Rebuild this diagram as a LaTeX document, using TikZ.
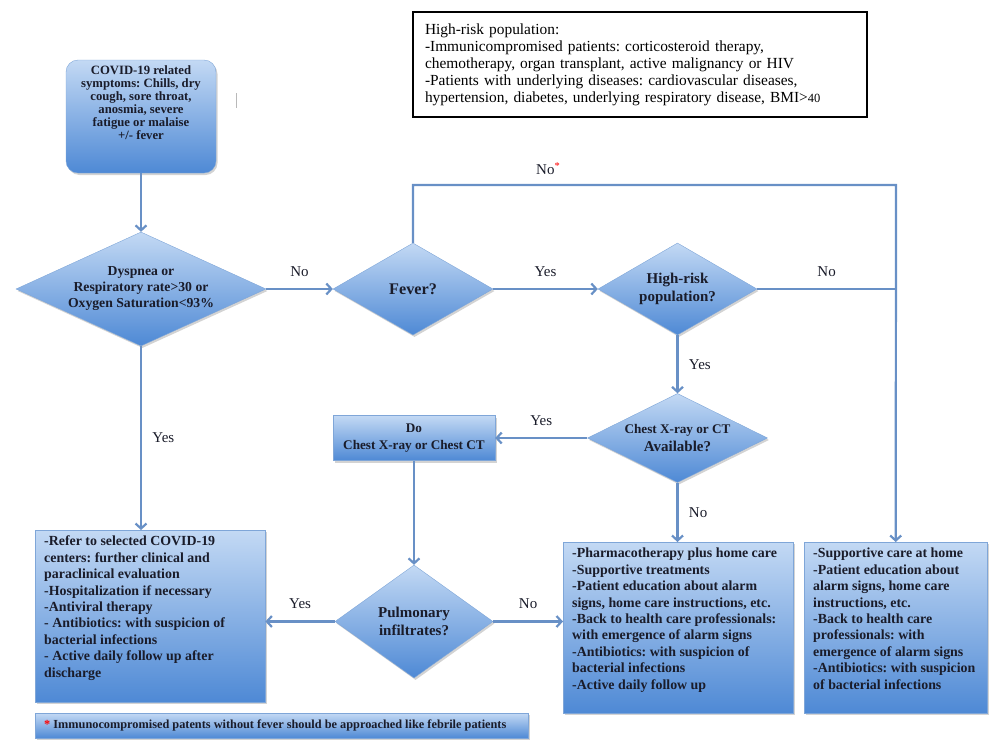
\documentclass[tikz,border=0pt]{standalone}
\usepackage{fontspec}
\setmainfont{Liberation Serif}
\usepackage{tikz}
\usetikzlibrary{shapes.geometric,shadows,arrows.meta}
\frenchspacing

\definecolor{boxtop}{HTML}{C3D9F4}
\definecolor{boxbot}{HTML}{4E89D5}
\definecolor{boxline}{HTML}{7FA6D8}
\definecolor{flowline}{HTML}{6890C6}
\definecolor{inktext}{HTML}{1A1C2A}

\begin{document}
\begin{tikzpicture}[x=1pt, y=-1pt,
		bluebox/.style={draw=boxline, thin, top color=boxtop, bottom color=boxbot, text=inktext,
			drop shadow={shadow xshift=1.5pt, shadow yshift=-2pt, opacity=.35}},
		decision/.style={bluebox, diamond, inner sep=0pt, align=center, font=\bfseries},
		carebox/.style={bluebox, rectangle, anchor=north west, inner xsep=9pt, inner ysep=6pt,
			font=\bfseries\fontsize{13.9}{16.4}\selectfont},
		flow/.style={draw=flowline, line width=2.2pt, -{Straight Barb[length=5pt, width=11pt]}},
		plain/.style={draw=flowline, line width=2.2pt},
		tag/.style={font=\fontsize{15}{16}\selectfont, text=inktext}]
		\useasboundingbox (0, 0) rectangle (1008, 750);
		%%
		\node[bluebox, rounded corners=12pt, minimum width=150, minimum height=113, inner sep=0pt]
			(symp) at (141, 116.5) {\parbox[t][101pt][t]{146pt}{\centering\bfseries\fontsize{12.7}{13}\selectfont
				COVID-19 related\\ symptoms: Chills, dry\\ cough, sore throat,\\ anosmia, severe\\ fatigue or malaise\\ +/- fever}};
		\draw[gray!55, line width=1pt] (236, 93) -- (236, 108);
		%%
		\node[draw=black, line width=1.8pt, fill=white, minimum width=454, minimum height=105,
			text width=430, align=left, inner xsep=12pt, font=\fontsize{15.4}{17}\selectfont] (hrbox) at (640, 64.5)
			{High-risk population:\\
			-Immunicompromised patients: corticosteroid therapy,\\
			chemotherapy, organ transplant, active malignancy or HIV\\
			-Patients with underlying diseases: cardiovascular diseases,\\
			hypertension, diabetes, underlying respiratory disease, BMI>{\fontsize{12.5}{17}\selectfont 40}};
		%%
		\node[decision, minimum width=250, minimum height=114, aspect=2.19, font=\bfseries\fontsize{13.7}{16}\selectfont]
			(dysp) at (141, 289) {Dyspnea or\\ Respiratory rate>30 or\\ Oxygen Saturation<93\%};
		\node[decision, minimum width=160, minimum height=92, aspect=1.74, font=\bfseries\fontsize{16.2}{18}\selectfont]
			(fever) at (413, 289) {Fever?};
		\node[decision, minimum width=159, minimum height=92, aspect=1.73, font=\bfseries\fontsize{15}{18}\selectfont]
			(hrisk) at (677.5, 289) {High-risk\\ population?};
		\node[decision, minimum width=180, minimum height=89, aspect=2.02, font=\bfseries\fontsize{13.2}{18}\selectfont]
			(chest) at (677.5, 438) {Chest X-ray or CT\\ {\fontsize{15}{18}\selectfont Available?}};
		\node[bluebox, rectangle, minimum width=162, minimum height=45, inner sep=0pt, align=center,
			font=\bfseries\fontsize{13.2}{17}\selectfont] (doct) at (414, 438) {Do\\ Chest X-ray or Chest CT};
		\node[decision, minimum width=158, minimum height=113, aspect=1.4, font=\bfseries\fontsize{15}{18}\selectfont]
			(pulm) at (414, 621.5) {Pulmonary\\ infiltrates?};
		%%
		\node[carebox, minimum width=230, minimum height=172] (refer) at (35, 530)
			{\parbox[t][160pt][t]{212pt}{\raggedright
				-Refer to selected COVID-19\\ centers: further clinical and\\ paraclinical evaluation\\
				-Hospitalization if necessary\\ -Antiviral therapy\\ - Antibiotics: with suspicion of\\
				bacterial infections\\ - Active daily follow up after\\ discharge}};
		\node[carebox, minimum width=230, minimum height=171] (pharm) at (563, 542)
			{\parbox[t][159pt][t]{212pt}{\raggedright
				-Pharmacotherapy plus home care\\ -Supportive treatments\\ -Patient education about alarm\\
				signs, home care instructions, etc.\\ -Back to health care professionals:\\
				with emergence of alarm signs\\ -Antibiotics: with suspicion of\\ bacterial infections\\
				-Active daily follow up}};
		\node[carebox, minimum width=183, minimum height=171] (home) at (804, 542)
			{\parbox[t][159pt][t]{165pt}{\raggedright
				-Supportive care at home\\ -Patient education about\\ alarm signs, home care\\
				instructions, etc.\\ -Back to health care\\ professionals: with\\ emergence of alarm signs\\
				-Antibiotics: with suspicion\\ of bacterial infections}};
		\node[carebox, minimum width=493, minimum height=25, inner ysep=0pt, font=\bfseries\fontsize{12.3}{14}\selectfont]
			(note) at (35, 713) {\parbox[c][25pt][c]{475pt}{\mbox{\textcolor{red}{*} Immunocompromised patents without fever should be approached like febrile patients}}};
		%%
		\coordinate (topright) at (896, 185);
		\draw[flow] (symp) -- (dysp);
		\draw[flow] (dysp) -- node[tag, above=8pt] {No} (fever);
		\draw[flow] (fever) -- node[tag, above=8pt] {Yes} (hrisk);
		\draw[flow] (fever.north) |- node[tag, pos=0.64, above=6pt] {No\textsuperscript{\textcolor{red}{*}}} (topright) -- (home.north);
		\draw[plain] (hrisk.east) -- node[tag, above=8pt] {No} (hrisk.east -| topright);
		\draw[flow] (hrisk) -- node[tag, right=7pt] {Yes} (chest);
		\draw[flow] (chest) -- node[tag, above=8pt] {Yes} (doct);
		\draw[flow] (chest.south) -- node[tag, right=7pt] {No} (chest.south |- pharm.north);
		\draw[flow] (doct) -- (pulm);
		\draw[flow] (dysp.south) -- node[tag, right=7pt] {Yes} (dysp.south |- refer.north);
		\draw[flow] (pulm.west) -- node[tag, above=8pt] {Yes} (pulm.west -| refer.east);
		\draw[flow] (pulm.east) -- node[tag, above=8pt] {No} (pulm.east -| pharm.west);
	\end{tikzpicture}
\end{document}
